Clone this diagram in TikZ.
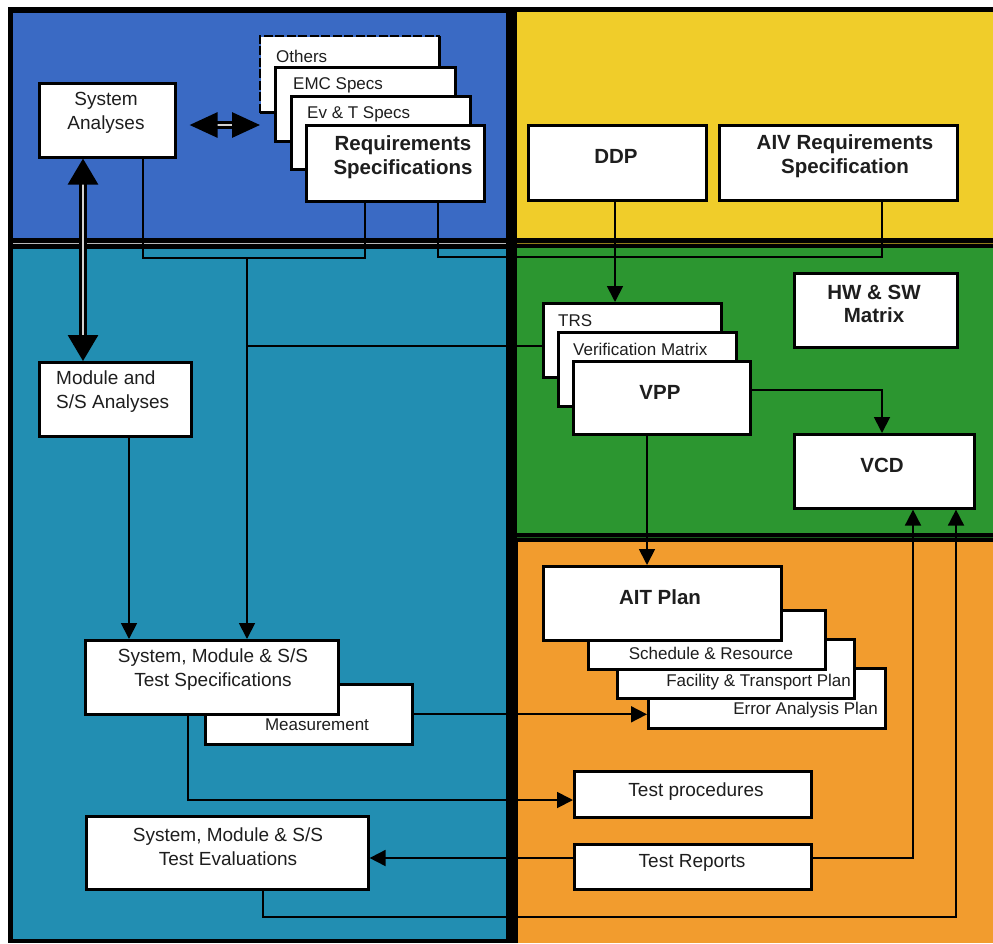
\documentclass[tikz,border=0pt]{standalone}
\usepackage{fontspec}
\setmainfont{Liberation Sans}
\usetikzlibrary{arrows.meta,calc}

\definecolor{panelblue}{RGB}{58,106,196}
\definecolor{panelteal}{RGB}{34,142,178}
\definecolor{panelyellow}{RGB}{240,205,42}
\definecolor{panelgreen}{RGB}{44,150,48}
\definecolor{panelorange}{RGB}{242,156,46}
\definecolor{ink}{RGB}{30,30,30}

% box from its top-left corner (x1,y1) to its bottom-right corner (x2,y2)
\newcommand\placebox[6][]{%
  \node[box,#1,minimum width={(#5-#3)*1pt},minimum height={(#6-#4)*1pt}] (#2) at (#3,#4) {};}

\begin{document}
\begin{tikzpicture}[x=1pt,y=-1pt,
  box/.style={draw=black, line width=2.6pt, fill=white, inner sep=0pt, anchor=north west},
  lbl/.style={font=\fontsize{19}{24}\selectfont, text=ink, align=center, inner sep=0pt},
  lblsm/.style={font=\fontsize{17}{20}\selectfont, text=ink, inner sep=0pt},
  lblbf/.style={font=\fontsize{20.5}{23.5}\selectfont\bfseries, text=ink, align=center, inner sep=0pt},
  wire/.style={draw=black, line width=1.8pt},
  arr/.style={wire, -{Triangle[length=16pt,width=16pt]}},
  bigarrv/.style={line width=3pt, double=gray!35, double distance=2pt,
    {Triangle[length=26pt,width=30pt]}-{Triangle[length=26pt,width=30pt]}},
  bigarrh/.style={line width=3pt, double=gray!35, double distance=2pt,
    {Triangle[length=28pt,width=25pt]}-{Triangle[length=28pt,width=25pt]}},
]
\useasboundingbox (0,0) rectangle (993,943);

% ---------- panels ----------
\fill[black] (8,7) rectangle (993,943);
\fill[panelblue]   (13,13)  rectangle (506,238);
\fill[panelteal]   (13,249) rectangle (506,939);
\fill[panelyellow] (517,12) rectangle (993,238);
\fill[panelgreen]  (517,248) rectangle (993,533);
\fill[panelorange] (518,542) rectangle (993,943);
\draw[gray!55, line width=1pt] (13,243.5) -- (506,243.5);
\draw[panelyellow!60!black, line width=1pt] (517,243) -- (993,243);
\draw[panelgreen!60!black, line width=1pt] (517,537) -- (993,537);

% ---------- requirements area ----------
\placebox{sa}{38}{82}{174}{156}
\placebox[draw=none]{others}{260}{36}{437}{110}
\draw[line width=2.6pt, dash pattern=on 9pt off 2.5pt]
  (others.south west) -- (others.north west) -- (others.north east);
\draw[line width=2.6pt] (others.north east) -- (others.south east) -- (others.south west);
\placebox{emc}{274}{66}{454}{140}
\placebox{evt}{290}{95}{469}{168}
\placebox{req}{305}{124}{483}{200}

\placebox{ddp}{527}{124}{705}{199}
\placebox{aiv}{718}{124}{956}{199}

% ---------- verification area ----------
\placebox{trs}{542}{302}{720}{376}
\placebox{vm}{557}{331}{735}{405}
\placebox{vpp}{572}{360}{749}{433}
\placebox{hwsw}{793}{272}{956}{346}
\placebox{vcd}{793}{433}{973}{507}

% ---------- AIT area ----------
\placebox{err}{647}{667}{884}{727}
\placebox{fac}{616}{638}{853}{697}
\placebox{sched}{587}{609}{824}{668}
\placebox{ait}{542}{565}{780}{639}
\placebox{tproc}{573}{770}{810}{816}
\placebox{trep}{573}{843}{810}{888}

% ---------- module / subsystem area ----------
\placebox{msa}{38}{361}{190}{435}
\placebox{meas}{204}{683}{411}{743}
\placebox{tspec}{84}{639}{337}{713}
\placebox{teval}{85}{815}{367}{888}

% ---------- labels ----------
\node[lbl] (sa-t) at (106,113) {System\\Analyses};
\node[lblsm, anchor=west] (others-t) at (276,56) {Others};
\node[lblsm, anchor=west] (emc-t) at (293,85) {EMC Specs};
\node[lblsm, anchor=west] (evt-t) at (307,114) {Ev \& T Specs};
\node[lblbf] (req-t) at (403,157) {Requirements\\Specifications};
\node[lblbf] (ddp-t) at (616,156) {DDP};
\node[lblbf] (aiv-t) at (845,156) {AIV Requirements\\Specification};

\node[lblsm, anchor=west] (trs-t) at (558,321) {TRS};
\node[lblsm, anchor=west] (vm-t) at (573,349) {Verification Matrix};
\node[lblbf] (vpp-t) at (660,392) {VPP};
\node[lblbf] (hwsw-t) at (874,304) {HW \& SW\\Matrix};
\node[lblbf] (vcd-t) at (882,465) {VCD};

\node[lblbf] (ait-t) at (660,597) {AIT Plan};
\node[lblsm] (sched-t) at (711,653) {Schedule \& Resource};
\node[lblsm, anchor=east] (fac-t) at (851,682) {Facility \& Transport Plan};
\node[lblsm, anchor=east] (err-t) at (878,710) {Error Analysis Plan};
\node[lbl] (tproc-t) at (696,792) {Test procedures};
\node[lbl] (trep-t) at (692,863) {Test Reports};

\node[lbl, align=left, anchor=west] (msa-t) at (56,392) {Module and\\S/S Analyses};
\node[lbl] (tspec-t) at (213,670) {System, Module \& S/S\\Test Specifications};
\node[lblsm] (meas-t) at (317,725) {Measurement};
\node[lbl] (teval-t) at (228,847) {System, Module \& S/S\\Test Evaluations};

% ---------- connectors ----------
\coordinate (busL) at (143,258);
\coordinate (busTap) at (247,258);
\coordinate (busR) at (365,258);
\coordinate (trsTap) at (247,346);
\coordinate (aivL) at (438,257);
\coordinate (aivR) at (882,257);
\coordinate (ddpX) at (615,0);
\coordinate (vppOut) at (882,390);
\coordinate (vppX) at (647,0);
\coordinate (msaX) at (129,0);
\coordinate (tsX) at (188,800);
\coordinate (repY) at (0,858);
\coordinate (repR) at (913,858);
\coordinate (evL) at (263,917);
\coordinate (evR) at (956,917);
\coordinate (vaX) at (83,0);
\coordinate (haY) at (0,125);

\draw[wire] (sa.south -| busL) -- (busL) -- (busR) -- (req.south -| busR);
\draw[arr] (busTap) -- (tspec.north -| busTap);
\draw[wire] (trsTap) -- (trs.west |- trsTap);
\draw[wire] (req.south -| aivL) -- (aivL) -- (aivR) -- (aiv.south -| aivR);

\draw[arr] (ddp.south -| ddpX) -- (trs.north -| ddpX);
\draw[arr] (vpp.east |- vppOut) -- (vppOut) -- (vcd.north -| vppOut);
\draw[arr] (vpp.south -| vppX) -- (ait.north -| vppX);

\draw[arr] (msa.south -| msaX) -- (tspec.north -| msaX);
\draw[arr] (meas.east) -- (meas.east -| err.west);
\draw[arr] (tspec.south -| tsX) -- (tsX) -- (tsX -| tproc.west);
\draw[arr] (trep.west |- repY) -- (teval.east |- repY);
\draw[arr] (trep.east |- repR) -- (repR) -- (vcd.south -| repR);
\draw[arr] (teval.south -| evL) -- (evL) -- (evR) -- (vcd.south -| evR);

\draw[bigarrv] (sa.south -| vaX) -- (msa.north -| vaX);
\draw[bigarrh, shorten <=13pt] (sa.east |- haY) -- (others.west |- haY);
\end{tikzpicture}
\end{document}
